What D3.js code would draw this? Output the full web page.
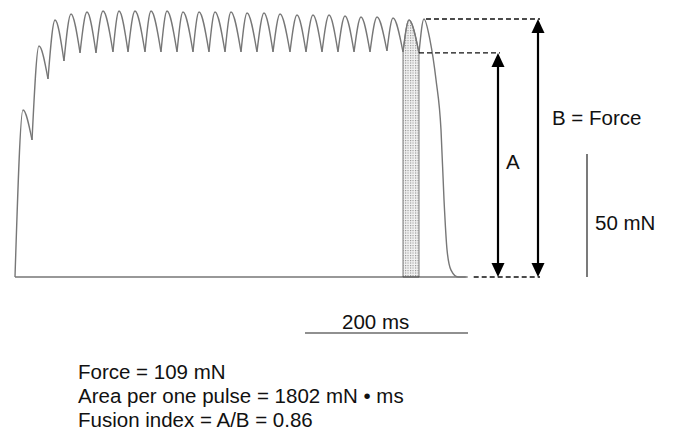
<!DOCTYPE html>
<html>
<head>
<meta charset="utf-8">
<script src="https://cdn.jsdelivr.net/npm/d3@7"></script>
<style>
  body { margin: 0; background: #fff; }
  svg { display: block; }
  text { font-family: "Liberation Sans", Arial, sans-serif; fill: #111; }
</style>
</head>
<body>
<div id="content"></div>
<script>
// tetanic contraction trace (time in ms, force in mN)
var peakMs = [9.8, 29.4, 49.1, 68.7, 88.3, 108.0, 127.6, 147.2, 166.9, 186.5, 206.1, 225.8, 245.4,
              265.0, 284.7, 305.5, 325.2, 346.0, 365.6, 385.3, 404.9, 424.5, 444.2, 463.8, 483.4, 501.8];
var peakMn = [67.9, 93.9, 104.5, 106.9, 107.7, 108.1, 108.1, 108.1, 108.1, 108.1, 107.7, 107.7, 107.7,
              107.7, 107.3, 107.3, 106.9, 106.5, 106.5, 106.5, 106.1, 105.7, 105.7, 105.3, 104.5, 104.9];
var troughMs = [20.9, 40.5, 60.1, 79.8, 99.4, 120.2, 138.7, 159.5, 179.1, 198.8, 218.4, 238.0, 257.7,
                277.3, 296.9, 316.6, 337.4, 357.1, 376.7, 396.3, 416.0, 435.6, 456.4, 476.1, 495.7];
var troughMn = [55.7, 80.5, 87.8, 91.1, 91.1, 91.5, 91.5, 91.5, 91.5, 91.5, 91.5, 91.5, 91.5,
                91.5, 91.5, 91.5, 91.5, 91.5, 91.5, 91.5, 91.5, 91.5, 91.9, 91.5, 91.1];
var decayMs = [509.2, 516.6, 522.7, 526.4, 530.1, 535.0, 543.6, 553.0];
var decayMn = [96.3, 80.1, 59.8, 31.3, 11.0, 2.8, 0, 0];

var pulseIndex = 24;          // shaded pulse = twitch segment 24
var labels = {
  b: "B = Force",
  a: "A",
  force: "50 mN",
  time: "200 ms"
};
var summary = [
  "Force = 109 mN",
  "Area per one pulse = 1802 mN \u2022 ms",
  "Fusion index = A/B = 0.86"
];

var width = 673, height = 430;

var svg = d3.select("#content").append("svg")
  .attr("width", width)
  .attr("height", height);

var x_scale = d3.scaleLinear().domain([0, 200]).range([15, 178]);
var y_scale = d3.scaleLinear().domain([0, 50]).range([277, 154]);

// one segment per twitch: trough -> peak -> trough (sharp troughs, round peaks)
var segments = [];
peakMs.forEach(function(t, i) {
  var seg = [];
  seg.push(i === 0 ? [0, 0] : [troughMs[i - 1], troughMn[i - 1]]);
  seg.push([t, peakMn[i]]);
  if (i < troughMs.length) {
    seg.push([troughMs[i], troughMn[i]]);
  } else {
    decayMs.forEach(function(d, j) { seg.push([d, decayMn[j]]); });
  }
  segments.push(seg);
});

var line = d3.line()
  .x(function(d) { return x_scale(d[0]); })
  .y(function(d) { return y_scale(d[1]); })
  .curve(d3.curveMonotoneX);

var area = d3.area()
  .x(function(d) { return x_scale(d[0]); })
  .y0(y_scale(0))
  .y1(function(d) { return y_scale(d[1]); })
  .curve(d3.curveMonotoneX);

var defs = svg.append("defs");
var pat = defs.append("pattern")
  .attr("id", "dots")
  .attr("width", 2.5).attr("height", 2.5)
  .attr("patternUnits", "userSpaceOnUse");
pat.append("rect").attr("width", 2.5).attr("height", 2.5).attr("fill", "#f2f2f2");
pat.append("rect").attr("width", 1.1).attr("height", 1.1).attr("fill", "#8a8a8a");

// shaded single pulse
svg.append("path")
  .datum(segments[pulseIndex])
  .attr("d", area)
  .attr("fill", "url(#dots)")
  .attr("stroke", "#777")
  .attr("stroke-width", 1);

// baseline
var endMs = decayMs[decayMs.length - 1];
svg.append("line")
  .attr("x1", x_scale(0)).attr("x2", x_scale(endMs) + 2)
  .attr("y1", y_scale(0)).attr("y2", y_scale(0))
  .attr("stroke", "#333").attr("stroke-width", 1.2);

// trace
svg.selectAll("path.trace")
  .data(segments)
  .enter()
  .append("path")
  .attr("class", "trace")
  .attr("d", line)
  .attr("fill", "none")
  .attr("stroke", "#777")
  .attr("stroke-width", 1.4);

// A and B
var aVal = troughMn[troughMn.length - 1];
var bVal = peakMn[peakMn.length - 1];
var ax = 498, bx = 538;

function dashed(x1, x2, v) {
  svg.append("line")
    .attr("x1", x1).attr("x2", x2)
    .attr("y1", y_scale(v)).attr("y2", y_scale(v))
    .attr("stroke", "#111").attr("stroke-width", 1.4)
    .attr("stroke-dasharray", "5,3");
}
dashed(x_scale(peakMs[peakMs.length - 1]) + 2, bx + 2, bVal);
dashed(x_scale(troughMs[troughMs.length - 1]), ax + 2, aVal);
dashed(x_scale(endMs) + 8, bx + 2, 0);

function arrow(xp, v) {
  var top = y_scale(v), bot = y_scale(0), hw = 6.5, hh = 14;
  svg.append("line")
    .attr("x1", xp).attr("x2", xp)
    .attr("y1", top + hh - 2).attr("y2", bot - hh + 2)
    .attr("stroke", "#000").attr("stroke-width", 2.2);
  svg.append("path")
    .attr("d", "M" + xp + "," + top + "L" + (xp - hw) + "," + (top + hh) + "L" + (xp + hw) + "," + (top + hh) + "Z")
    .attr("fill", "#000");
  svg.append("path")
    .attr("d", "M" + xp + "," + bot + "L" + (xp - hw) + "," + (bot - hh) + "L" + (xp + hw) + "," + (bot - hh) + "Z")
    .attr("fill", "#000");
}
arrow(ax, aVal);
arrow(bx, bVal);

svg.append("text").attr("x", 506).attr("y", 169)
  .style("font-size", "20.5px").text(labels.a);
svg.append("text").attr("x", 552).attr("y", 125)
  .style("font-size", "20.5px").text(labels.b);

// scale bars
var fx = 587;
svg.append("line")
  .attr("x1", fx).attr("x2", fx)
  .attr("y1", y_scale(50)).attr("y2", y_scale(0))
  .attr("stroke", "#222").attr("stroke-width", 1.2);
svg.append("text").attr("x", 595).attr("y", 230)
  .style("font-size", "20.5px").text(labels.force);

var sx = 305, sy = 333;
svg.append("line")
  .attr("x1", sx).attr("x2", sx + x_scale(200) - x_scale(0))
  .attr("y1", sy).attr("y2", sy)
  .attr("stroke", "#222").attr("stroke-width", 1.2);
svg.append("text").attr("x", 342).attr("y", 329)
  .style("font-size", "20.5px").text(labels.time);

// summary
svg.selectAll("text.summary")
  .data(summary)
  .enter()
  .append("text")
  .attr("class", "summary")
  .attr("x", 78)
  .attr("y", function(d, i) { return 379 + i * 24; })
  .style("font-size", "20.5px")
  .text(function(d) { return d; });
</script>
</body>
</html>
